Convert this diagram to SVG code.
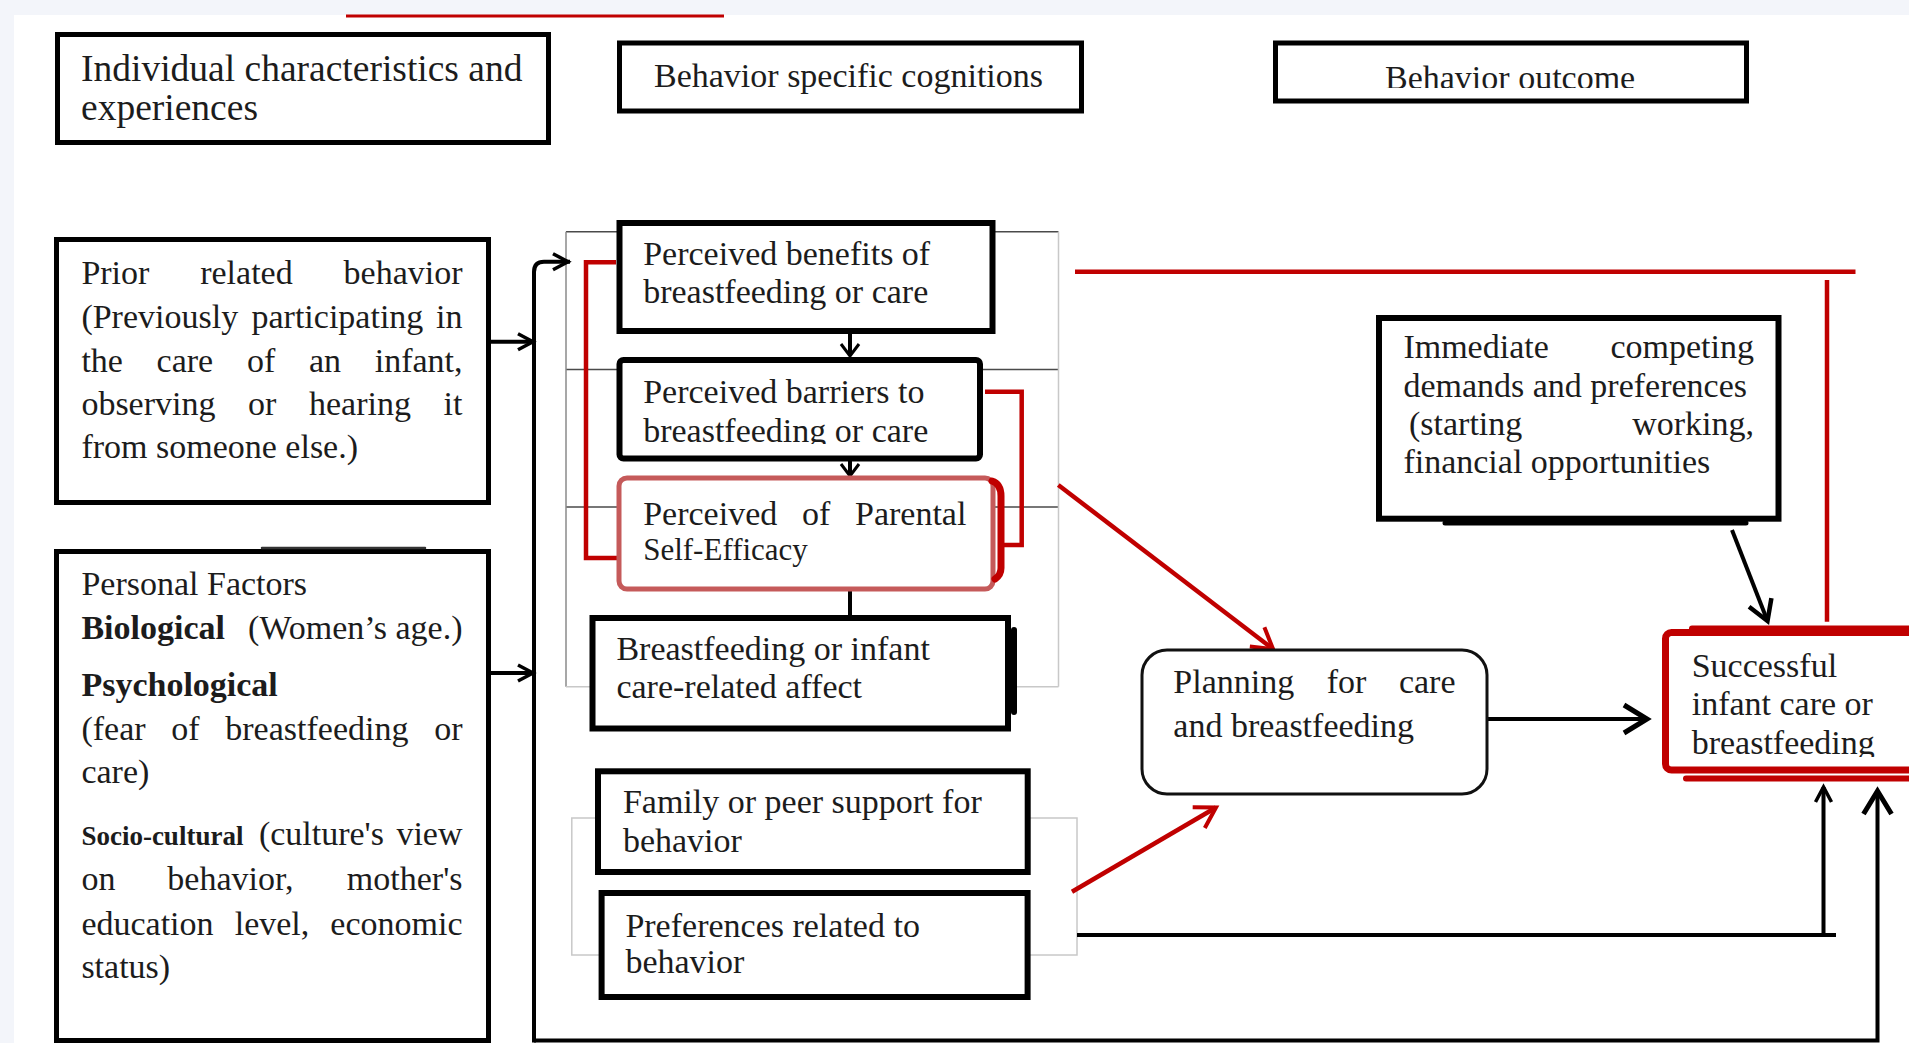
<svg xmlns="http://www.w3.org/2000/svg" width="1909" height="1043" viewBox="0 0 1909 1043">
<defs>
<style>
.t{font-family:"Liberation Serif","Times New Roman",serif;font-size:34px;fill:#1c1c1c}
.h1{font-size:37.5px}
.bd{font-weight:bold}
.sm{font-size:31px}
.e{text-anchor:end}
.box{fill:#fff;stroke:#000;stroke-width:6}
.grid{stroke:#4a4a4a;stroke-width:1.5;fill:none}
.gridl{stroke:#c8c8c8;stroke-width:1.5;fill:none}
.c{fill:none;stroke:#000;stroke-width:4}
.r{fill:none;stroke:#c00000;stroke-width:4.5}
</style>
<marker id="at" markerUnits="userSpaceOnUse" viewBox="0 0 16 20" markerWidth="16" markerHeight="20" refX="14" refY="10" orient="auto" overflow="visible"><path d="M2,1 L14,10 L2,19" fill="none" stroke="#000" stroke-width="3"/></marker>
<marker id="as" markerUnits="userSpaceOnUse" viewBox="0 0 20 20" markerWidth="20" markerHeight="20" refX="18" refY="10" orient="auto" overflow="visible"><path d="M3,2 L18,10 L3,18" fill="none" stroke="#000" stroke-width="3.5"/></marker>
<marker id="am" markerUnits="userSpaceOnUse" viewBox="0 0 26 26" markerWidth="26" markerHeight="26" refX="23" refY="13" orient="auto" overflow="visible"><path d="M3,1 L23,13 L3,25" fill="none" stroke="#000" stroke-width="4.5"/></marker>
<marker id="al" markerUnits="userSpaceOnUse" viewBox="0 0 30 30" markerWidth="30" markerHeight="30" refX="27" refY="15" orient="auto" overflow="visible"><path d="M4,1 L27,15 L4,29" fill="none" stroke="#000" stroke-width="5"/></marker>
<marker id="ar" markerUnits="userSpaceOnUse" viewBox="0 0 26 26" markerWidth="26" markerHeight="26" refX="23" refY="13" orient="auto" overflow="visible"><path d="M3,1 L23,13 L3,25" fill="none" stroke="#c00000" stroke-width="4"/></marker>
<clipPath id="clipH3"><rect x="1280" y="45" width="460" height="43"/></clipPath>
<clipPath id="clipB2"><rect x="625" y="365" width="350" height="79"/></clipPath>
<clipPath id="clipS"><rect x="1670" y="638" width="239" height="119"/></clipPath>
</defs>

<rect width="1909" height="1043" fill="#f3f5fa"/>
<rect x="14" y="15" width="1895" height="1028" fill="#fff"/>
<line x1="346" y1="16" x2="724" y2="16" stroke="#c00000" stroke-width="3"/>

<!-- background grid frames -->
<g id="frames">
<line class="grid" x1="566" y1="231.7" x2="1058.5" y2="231.7"/>
<line class="grid" x1="566" y1="369.5" x2="1058.5" y2="369.5"/>
<line class="grid" x1="566" y1="507" x2="1058.5" y2="507"/>
<line x1="566" y1="231.7" x2="566" y2="686.7" stroke="#8a8a8a" stroke-width="1.5"/>
<line class="gridl" x1="1058.5" y1="231.7" x2="1058.5" y2="686.7"/>
<line class="gridl" x1="566" y1="686.7" x2="1058.5" y2="686.7"/>
<rect class="gridl" x="571.8" y="818" width="505.2" height="137"/>
</g>

<g id="connectors">
<path class="c" d="M534,1040.5 V272 Q534,261.7 544,261.7 H568" marker-end="url(#as)" stroke-linecap="square"/>
<path class="c" d="M534,1040.5 H1877.5 V791" stroke-width="4.5" marker-end="url(#al)"/>
<line class="c" x1="491" y1="341.7" x2="533" y2="341.7" marker-end="url(#as)"/>
<line class="c" x1="489" y1="673" x2="533" y2="673" marker-end="url(#as)"/>
<line class="c" x1="850" y1="331" x2="850" y2="356" stroke-width="3" marker-end="url(#at)"/>
<line class="c" x1="850" y1="459" x2="850" y2="476" stroke-width="3" marker-end="url(#at)"/>
<line class="c" x1="850" y1="591" x2="850" y2="616" stroke-width="3"/>
<path class="r" d="M616,262.3 H586 V558 H617"/>
<path class="r" d="M985,391.7 H1021.7 V545 H1003"/>
<line class="r" x1="1075" y1="271.7" x2="1855.5" y2="271.7" stroke-width="5"/>
<line class="r" x1="1827" y1="280" x2="1827" y2="621.7"/>
<line class="r" x1="1058.3" y1="485" x2="1273" y2="649" marker-end="url(#ar)"/>
<line class="r" x1="1072" y1="891.7" x2="1216" y2="807.5" stroke-width="3.5" marker-end="url(#ar)"/>
<line class="c" x1="1732" y1="530" x2="1767.5" y2="621" stroke-width="4.5" marker-end="url(#am)"/>
<line class="c" x1="1488" y1="719" x2="1647" y2="719" stroke-width="5" marker-end="url(#al)"/>
<line class="c" x1="1077" y1="935" x2="1836" y2="935" stroke-width="4.5"/>
<line class="c" x1="1823.5" y1="935" x2="1823.5" y2="787" stroke-width="4" marker-end="url(#as)"/>
</g>

<g id="header1">
<rect x="57.5" y="34.5" width="491" height="108" fill="#fff" stroke="#000" stroke-width="5"/>
<text class="t h1" x="81" y="81">Individual characteristics and</text>
<text class="t h1" x="81" y="120">experiences</text>
</g>

<g id="header2">
<rect x="619.5" y="43" width="462" height="68" fill="#fff" stroke="#000" stroke-width="5"/>
<text class="t" x="654" y="87">Behavior specific cognitions</text>
</g>

<g id="header3">
<rect x="1275.5" y="43" width="471" height="58" fill="#fff" stroke="#000" stroke-width="5"/>
<text class="t" x="1385" y="89" clip-path="url(#clipH3)">Behavior outcome</text>
</g>

<g id="prior">
<rect x="56.5" y="239.5" width="432" height="263" fill="#fff" stroke="#000" stroke-width="5"/>
<text class="t" y="284"><tspan x="81.4">Prior</tspan><tspan x="200.2">related</tspan><tspan x="462.5" class="e">behavior</tspan></text>
<text class="t" y="328"><tspan x="81.4">(Previously</tspan><tspan x="251.5">participating</tspan><tspan x="462.5" class="e">in</tspan></text>
<text class="t" y="372"><tspan x="81.4">the</tspan><tspan x="156.6">care</tspan><tspan x="246.9">of</tspan><tspan x="308.9">an</tspan><tspan x="462.5" class="e">infant,</tspan></text>
<text class="t" y="415"><tspan x="81.4">observing</tspan><tspan x="248.1">or</tspan><tspan x="309">hearing</tspan><tspan x="462.5" class="e">it</tspan></text>
<text class="t" x="81.4" y="458">from someone else.)</text>
</g>

<g id="personal">
<rect x="56.5" y="551.5" width="432" height="489" fill="#fff" stroke="#000" stroke-width="5"/>
<line x1="262" y1="548" x2="425" y2="548" stroke="#333" stroke-width="2.5" stroke-linecap="round"/>
<text class="t" x="81.4" y="595">Personal Factors</text>
<text class="t" y="639"><tspan x="81.4" class="bd">Biological</tspan><tspan x="462.5" class="e">(Women’s age.)</tspan></text>
<text class="t bd" x="81.4" y="696">Psychological</text>
<text class="t" y="740"><tspan x="81.4">(fear</tspan><tspan x="171.3">of</tspan><tspan x="225.3">breastfeeding</tspan><tspan x="462.5" class="e">or</tspan></text>
<text class="t" x="81.4" y="783">care)</text>
<text class="t" y="845"><tspan x="81.4" class="bd" font-size="27">Socio-cultural</tspan><tspan x="258.9">(culture's</tspan><tspan x="462.5" class="e">view</tspan></text>
<text class="t" y="890"><tspan x="81.4">on</tspan><tspan x="167.3">behavior,</tspan><tspan x="462.5" class="e">mother's</tspan></text>
<text class="t" y="935"><tspan x="81.4">education</tspan><tspan x="234.7">level,</tspan><tspan x="462.5" class="e">economic</tspan></text>
<text class="t" x="81.4" y="978">status)</text>
</g>

<g id="benefits">
<rect class="box" x="619.5" y="223" width="373" height="108"/>
<text class="t" x="643.2" y="265">Perceived benefits of</text>
<text class="t" x="643.2" y="303">breastfeeding or care</text>
</g>

<g id="barriers">
<rect class="box" x="619.5" y="360" width="360.5" height="98.5" rx="4"/>
<text class="t" x="643.2" y="403">Perceived barriers to</text>
<text class="t" x="643.2" y="441.7" clip-path="url(#clipB2)">breastfeeding or care</text>
</g>

<g id="selfefficacy">
<rect x="619" y="478" width="374" height="111" rx="8" fill="#fff" stroke="#c55a5a" stroke-width="5"/>
<path d="M992,481 Q1001,484 1001,496 V568 Q1001,575 995,579" fill="none" stroke="#c00000" stroke-width="7" stroke-linecap="round"/>
<text class="t" y="525"><tspan x="643.2">Perceived</tspan><tspan x="802">of</tspan><tspan x="966.4" class="e">Parental</tspan></text>
<text class="t sm" x="643.2" y="560">Self-Efficacy</text>
</g>

<g id="affect">
<rect class="box" x="592.5" y="618" width="415.5" height="110.5"/>
<line x1="1014" y1="630" x2="1014" y2="712" stroke="#000" stroke-width="6" stroke-linecap="round"/>
<text class="t" x="616.4" y="660">Breastfeeding or infant</text>
<text class="t" x="616.4" y="698.3">care-related affect</text>
</g>

<g id="support">
<rect class="box" x="598" y="771.3" width="429.7" height="100.7"/>
<text class="t" x="622.9" y="813.3">Family or peer support for</text>
<text class="t" x="622.9" y="851.7">behavior</text>
</g>

<g id="preferences">
<rect class="box" x="601.6" y="893" width="426" height="104"/>
<text class="t" x="625.4" y="936.7">Preferences related to</text>
<text class="t" x="625.4" y="973.3">behavior</text>
</g>

<g id="immediate">
<rect class="box" x="1379" y="318" width="399.5" height="200.7"/>
<line x1="1445" y1="523" x2="1746" y2="523" stroke="#000" stroke-width="5" stroke-linecap="round"/>
<text class="t" y="358.3"><tspan x="1403.4">Immediate</tspan><tspan x="1754" class="e">competing</tspan></text>
<text class="t" x="1403.4" y="396.7">demands and preferences</text>
<text class="t" y="435"><tspan x="1409">(starting</tspan><tspan x="1754" class="e">working,</tspan></text>
<text class="t" x="1403.4" y="473.3">financial opportunities</text>
</g>

<g id="planning">
<rect x="1142" y="650" width="345" height="144" rx="25" fill="#fff" stroke="#111" stroke-width="3"/>
<text class="t" y="693.3"><tspan x="1173.3">Planning</tspan><tspan x="1326.8">for</tspan><tspan x="1455.5" class="e">care</tspan></text>
<text class="t" x="1173.3" y="736.7">and breastfeeding</text>
</g>

<g id="successful">
<rect x="1665.5" y="632.5" width="262" height="137.5" rx="6" fill="#fff" stroke="#c00000" stroke-width="7"/>
<line x1="1692" y1="628.5" x2="1915" y2="628.5" stroke="#c00000" stroke-width="6" stroke-linecap="round"/>
<line x1="1686" y1="778.5" x2="1915" y2="778.5" stroke="#c00000" stroke-width="6" stroke-linecap="round"/>
<text class="t" x="1691.7" y="676.7">Successful</text>
<text class="t" x="1691.7" y="715">infant care or</text>
<text class="t" x="1691.7" y="754" clip-path="url(#clipS)">breastfeeding</text>
</g>
</svg>
